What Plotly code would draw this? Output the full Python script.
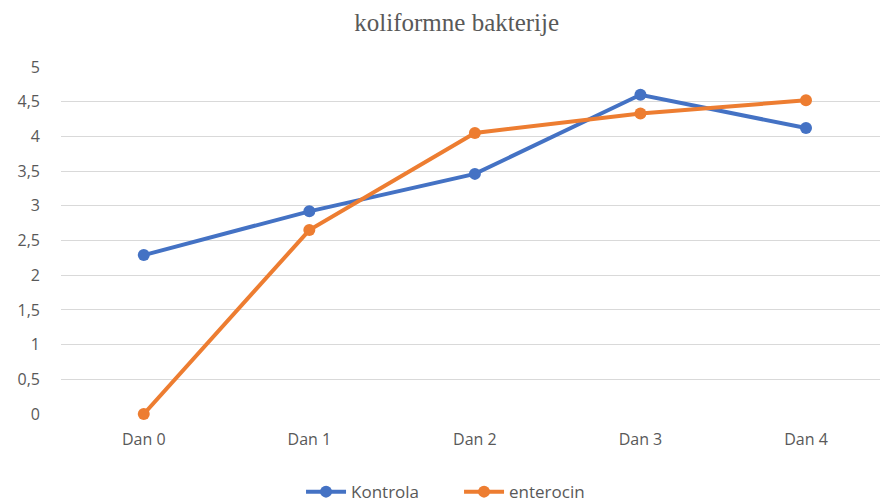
import plotly.graph_objects as go

categories = ["Dan 0", "Dan 1", "Dan 2", "Dan 3", "Dan 4"]
kontrola = [2.29, 2.92, 3.46, 4.60, 4.12]
enterocin = [0.0, 2.65, 4.05, 4.33, 4.52]
y_tick_vals = [0, 0.5, 1, 1.5, 2, 2.5, 3, 3.5, 4, 4.5, 5]
y_tick_text = ["0", "0,5", "1", "1,5", "2", "2,5", "3", "3,5", "4", "4,5", "5"]

fig = go.Figure()
fig.add_trace(go.Scatter(x=list(range(len(categories))), y=kontrola, name="Kontrola",
                         mode="lines+markers", cliponaxis=False,
                         line=dict(color="#4472C4", width=4),
                         marker=dict(color="#4472C4", size=12)))
fig.add_trace(go.Scatter(x=list(range(len(categories))), y=enterocin, name="enterocin",
                         mode="lines+markers", cliponaxis=False,
                         line=dict(color="#ED7D31", width=4),
                         marker=dict(color="#ED7D31", size=12)))

fig.update_layout(
    width=880, height=503,
    paper_bgcolor="white", plot_bgcolor="white",
    margin=dict(l=61, r=0, t=67, b=89, autoexpand=False),
    title=dict(text="koliformne bakterije", x=0.519, xanchor="center", y=0.956, yanchor="middle",
               font=dict(family="Liberation Serif", size=25, color="#595959")),
    font=dict(family="Open Sans", size=16, color="#595959"),
    xaxis=dict(range=[-0.5, 4.447], tickvals=list(range(len(categories))), ticktext=categories,
               showgrid=False, zeroline=False, showline=False, ticks="", ticklabelstandoff=14,
               tickfont=dict(size=16, color="#595959"), automargin=False,
               fixedrange=True),
    yaxis=dict(range=[0, 5], tickvals=y_tick_vals, ticktext=y_tick_text,
               showgrid=True, gridcolor="#d9d9d9", gridwidth=1.3, zeroline=False,
               showline=False, ticks="", ticklabelstandoff=20,
               tickfont=dict(size=16, color="#595959"), automargin=False),
    legend=dict(orientation="h", x=0.486, xanchor="center", y=-0.225, yanchor="middle",
                font=dict(size=17, color="#595959"), itemwidth=40,
                entrywidth=103, entrywidthmode="pixels"),
    showlegend=True,
)

fig.write_html("out.html", config={"displayModeBar": False},
               post_script="document.body.style.margin='0px';document.body.style.overflow='hidden';")
